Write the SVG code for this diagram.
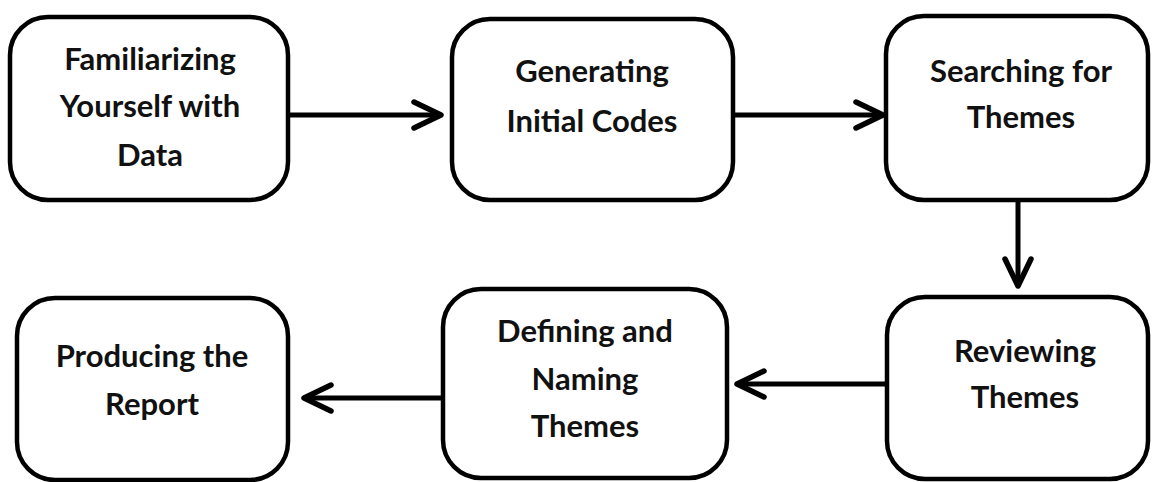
<svg xmlns="http://www.w3.org/2000/svg" width="1152" height="482" viewBox="0 0 1152 482">
<defs>
<style>
.box{fill:#fff;stroke:#000;stroke-width:4.5}
.lbl{font-family:Lato,"Open Sans","Liberation Sans",sans-serif;font-weight:bold;font-size:31px;fill:#111;text-anchor:middle}
.conn{stroke:#000;stroke-width:5;fill:none}
.head{stroke:#000;stroke-width:5.5;fill:none;stroke-linecap:round;stroke-linejoin:round}
</style>
<marker id="arr" markerUnits="userSpaceOnUse" viewBox="-32 -16 36 32" refX="0" refY="0" markerWidth="36" markerHeight="32" orient="auto">
<path class="head" d="M-27,-13 L0,0 L-27,13"/>
</marker>
</defs>
<rect width="1152" height="482" fill="#fff"/>
<g id="connectors">
<path class="conn" d="M288,115 H441" marker-end="url(#arr)"/>
<path class="conn" d="M733,115 H883" marker-end="url(#arr)"/>
<path class="conn" d="M1018,200 V286" marker-end="url(#arr)"/>
<path class="conn" d="M887,384 H737" marker-end="url(#arr)"/>
<path class="conn" d="M443,398 H304" marker-end="url(#arr)"/>
</g>
<g id="n1">
<rect class="box" x="10" y="17" width="278" height="183" rx="38"/>
<text class="lbl" x="150" y="70">Familiarizing</text>
<text class="lbl" x="150" y="117">Yourself with</text>
<text class="lbl" x="150" y="166">Data</text>
</g>
<g id="n2">
<rect class="box" x="452" y="19" width="281" height="181" rx="38"/>
<text class="lbl" x="592" y="82">Generating</text>
<text class="lbl" x="592" y="132">Initial Codes</text>
</g>
<g id="n3">
<rect class="box" x="886" y="16" width="262" height="184" rx="38"/>
<text class="lbl" x="1021" y="82">Searching for</text>
<text class="lbl" x="1021" y="128">Themes</text>
</g>
<g id="n4">
<rect class="box" x="887" y="297" width="261" height="182" rx="38"/>
<text class="lbl" x="1025" y="362">Reviewing</text>
<text class="lbl" x="1025" y="408">Themes</text>
</g>
<g id="n5">
<rect class="box" x="443" y="289" width="284" height="189" rx="38"/>
<text class="lbl" x="585" y="342">Defining and</text>
<text class="lbl" x="585" y="390">Naming</text>
<text class="lbl" x="585" y="437">Themes</text>
</g>
<g id="n6">
<rect class="box" x="17" y="298" width="271" height="182" rx="38"/>
<text class="lbl" x="152" y="367">Producing the</text>
<text class="lbl" x="152" y="415">Report</text>
</g>
</svg>
